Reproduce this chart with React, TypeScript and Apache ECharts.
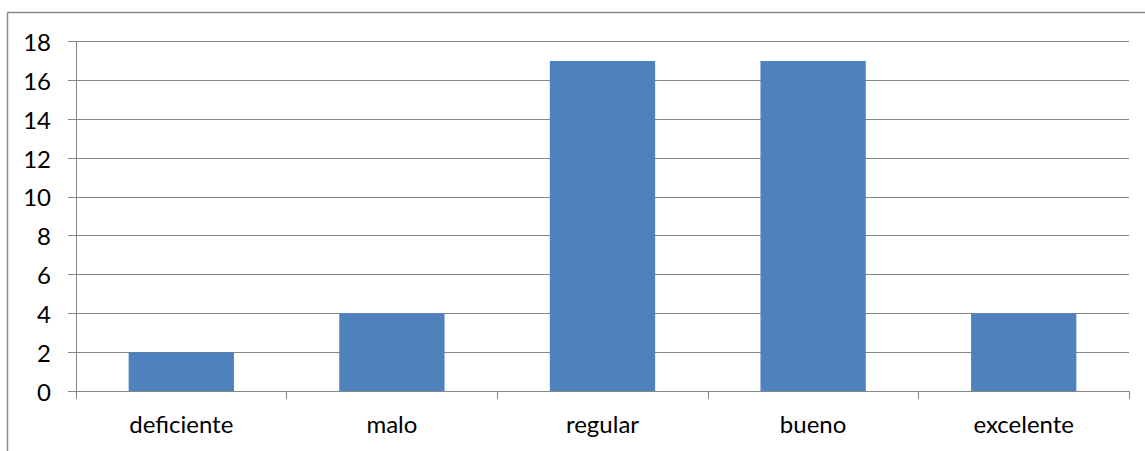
import React, { useEffect, useRef } from "react";
import * as echarts from "echarts";

const categories = ["deficiente", "malo", "regular", "bueno", "excelente"];
const values = [2, 4, 17, 17, 4];
const yMin = 0;
const yMax = 18;
const yStep = 2;

export default function App() {
  const ref = useRef<HTMLDivElement>(null);
  useEffect(() => {
    document.body.style.margin = "0";
    const chart = echarts.init(ref.current!, undefined, { renderer: "svg" });
    const font = "Lato";
    chart.setOption({
      animation: false,
      backgroundColor: "#ffffff",
      graphic: [
        { type: "line", shape: { x1: 7.5, y1: 12.5, x2: 1145, y2: 12.5 }, style: { stroke: "#888888", lineWidth: 1.5 } },
        { type: "line", shape: { x1: 7.5, y1: 12.5, x2: 7.5, y2: 451 }, style: { stroke: "#888888", lineWidth: 1.5 } },
      ],
      grid: { left: 76, right: 16, top: 41.5, bottom: 60, containLabel: false },
      xAxis: {
        type: "category",
        data: categories,
        axisLine: { show: true, lineStyle: { color: "#868686", width: 1 } },
        axisTick: { show: true, length: 8, lineStyle: { color: "#868686" } },
        axisLabel: { color: "#000", fontFamily: font, fontSize: 24, margin: 20 },
      },
      yAxis: {
        type: "value",
        min: yMin,
        max: yMax,
        interval: yStep,
        axisLine: { show: true, lineStyle: { color: "#868686", width: 1 } },
        axisTick: { show: true, length: 8, lineStyle: { color: "#868686" } },
        axisLabel: { color: "#000", fontFamily: font, fontSize: 24, margin: 25 },
        splitLine: { show: true, lineStyle: { color: "#868686", width: 1 } },
      },
      series: [
        {
          type: "bar",
          data: values,
          barWidth: "50%",
          itemStyle: { color: "#4F81BD" },
        },
      ],
    });
    return () => chart.dispose();
  }, []);
  return <div ref={ref} style={{ width: 1145, height: 451 }} />;
}
